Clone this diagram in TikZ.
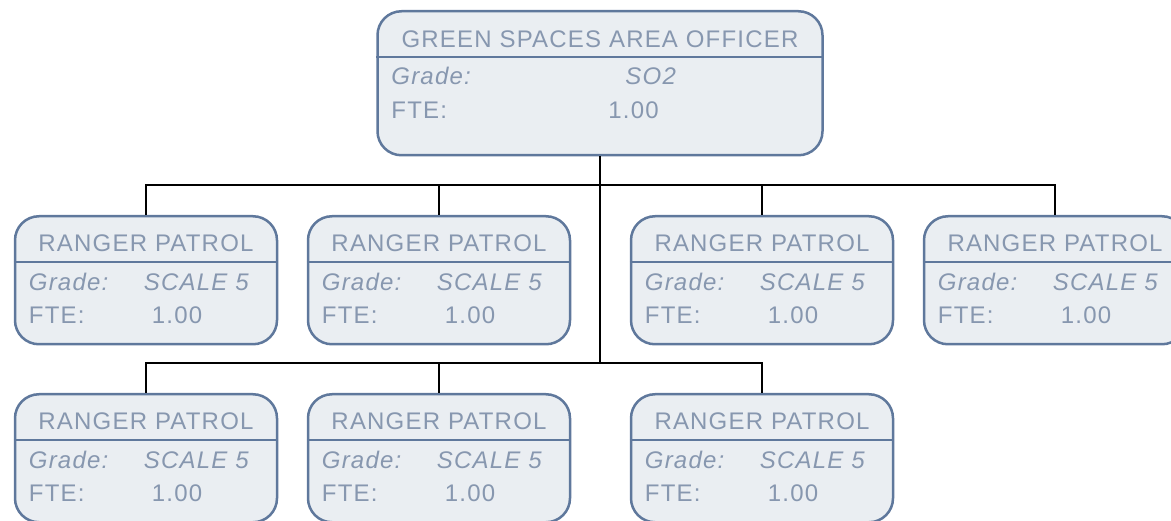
\documentclass[tikz,border=0pt]{standalone}
\usepackage{fontspec}
\setmainfont[LetterSpace=5]{Liberation Sans}
\usepackage{tikz}
\usetikzlibrary{positioning,calc}
\definecolor{slate}{HTML}{5F789C}
\definecolor{panel}{HTML}{EAEEF2}
\definecolor{label}{HTML}{8797AF}

\begin{document}
\begin{tikzpicture}[x=1pt,y=-1pt]
  \tikzset{
    post/.style={draw=slate,fill=panel,line width=2.5pt,rounded corners=24pt,inner sep=0pt,
                 minimum width=262pt,minimum height=128pt,anchor=north},
    rule/.style={draw=slate,line width=2.5pt},
    ttl/.style={font=\fontsize{24}{28}\selectfont,text=label,inner sep=0pt},
    fld/.style={font=\fontsize{24}{28}\selectfont,text=label,inner sep=0pt,anchor=west},
    wire/.style={line width=2pt,black}
  }
  \useasboundingbox (0,0) rectangle (1171,521);
  \node[post,minimum width=445pt,minimum height=144pt] (gso) at (600,10) {};
  \draw[rule] ($(gso.north west)+(0,47)$) -- ($(gso.north east)+(0,47)$);
  \node[ttl] (gso-t) at ($(gso.north)+(0,29)$) {GREEN SPACES AREA OFFICER};
  \node[fld] (gso-g) at ($(gso.north west)+(15,66)$) {\itshape Grade:};
  \node[fld] (gso-gv) at ($(gso.north west)+(249,66)$) {\itshape SO2};
  \node[fld] (gso-f) at ($(gso.north west)+(15,100)$) {FTE:};
  \node[fld] (gso-fv) at ($(gso.north west)+(232,100)$) {1.00};
  \foreach \n/\x/\y in {r1/146/215,r2/439/215,r3/762/215,r4/1055/215,r5/146/393,r6/439/393,r7/762/393}{
    \node[post] (\n) at (\x,\y) {};
    \draw[rule] ($(\n.north west)+(0,47)$) -- ($(\n.north east)+(0,47)$);
    \node[ttl] (\n-t) at ($(\n.north)+(0,28)$) {RANGER PATROL};
    \node[fld] (\n-g) at ($(\n.north west)+(15,67)$) {\itshape Grade:};
    \node[fld] (\n-gv) at ($(\n.north west)+(130,67)$) {\itshape SCALE 5};
    \node[fld] (\n-f) at ($(\n.north west)+(15,100)$) {FTE:};
    \node[fld] (\n-fv) at ($(\n.north west)+(138,100)$) {1.00};
  }
  \coordinate (bus1) at (600,185);
  \coordinate (bus2) at (600,363);
  \draw[wire] (gso.south) -- (bus2);
  \draw[wire] (r1.north) |- (bus1) -| (r4.north);
  \draw[wire] (r2.north) -- (r2.north|-bus1);
  \draw[wire] (r3.north) -- (r3.north|-bus1);
  \draw[wire] (r5.north) |- (bus2) -| (r7.north);
  \draw[wire] (r6.north) -- (r6.north|-bus2);
\end{tikzpicture}
\end{document}
